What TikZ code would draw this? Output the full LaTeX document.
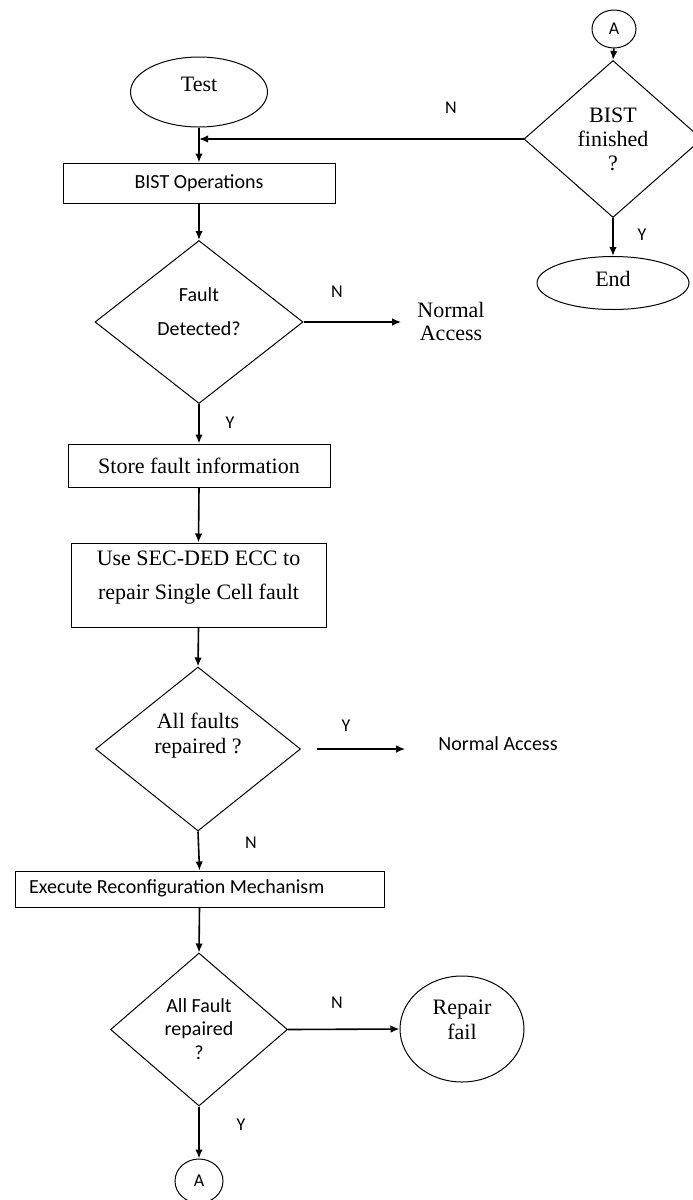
\documentclass[tikz,border=0pt]{standalone}
\usepackage{fontspec}
\setmainfont{Liberation Serif}
\newfontfamily\calibri{Carlito}
\usetikzlibrary{shapes.geometric,arrows.meta}
\tikzset{
  shp/.style={draw, line width=1pt, inner sep=0pt},
  boxs/.style={shp, rectangle},
  dia/.style={shp, diamond},
  ell/.style={shp, ellipse},
  arr/.style={-{Latex[length=9pt,width=7.5pt]}, line width=1.6pt},
  lab/.style={inner sep=0pt, font=\calibri\fontsize{18}{20}\selectfont},
  ser/.style={inner sep=0pt, align=center, font=\fontsize{22}{24}\selectfont},
  san/.style={inner sep=0pt, align=center, font=\calibri\fontsize{20}{22}\selectfont},
}
\begin{document}
\begin{tikzpicture}[x=1pt,y=-1pt]
\useasboundingbox (0,0) rectangle (693,1200);
% left column
\node[ell, minimum width=137, minimum height=70] (test) at (199,92) {};
\node[ser] (testtxt) at (199,84) {Test};
\node[boxs, minimum width=272, minimum height=40, san] (bistop) at (199,183) {BIST Operations};
\node[dia, minimum width=208, minimum height=163] (fault) at (199,322) {};
\node[san, font=\calibri\fontsize{20}{34}\selectfont] (faulttxt) at (199,312) {Fault\\Detected?};
\node[ser, font=\fontsize{22}{23}\selectfont] (na1) at (451,321) {Normal\\Access};
\node[boxs, minimum width=262, minimum height=43, ser] (store) at (199,465.5) {Store fault information};
\node[boxs, minimum width=255, minimum height=84] (ecc) at (198.5,585) {};
\node[ser, font=\fontsize{22}{34}\selectfont] (ecctxt) at (198.5,578) {Use SEC-DED ECC to\\repair Single Cell fault};
\node[dia, minimum width=205, minimum height=164] (allf) at (198,749) {};
\node[ser, font=\fontsize{22}{25}\selectfont] (allftxt) at (198,736) {All faults\\repaired ?};
\node[san] (na2) at (498,744) {Normal Access};
\node[boxs, minimum width=369, minimum height=36] (exec) at (199.5,889) {};
\node[san, anchor=west] (exectxt) at (29,888) {Execute Reconfiguration Mechanism};
\node[dia, minimum width=177, minimum height=153] (allF) at (199,1029.5) {};
\node[san, font=\calibri\fontsize{20}{23.5}\selectfont] (allFtxt) at (199,1029) {All Fault\\repaired\\?};
\node[ell, minimum width=124, minimum height=106] (repair) at (462,1029) {};
\node[ser, font=\fontsize{22}{25}\selectfont] (repairtxt) at (462,1020) {Repair\\fail};
\node[ell, minimum width=48, minimum height=44, lab] (a2) at (199,1181) {A};
% right column
\node[ell, minimum width=44, minimum height=38, lab] (a1) at (614,29) {A};
\node[dia, minimum width=178, minimum height=157] (bistfin) at (613,139) {};
\node[ser] (bistfintxt) at (613,139) {BIST\\finished\\?};
\node[ell, minimum width=152, minimum height=53] (end) at (613,283) {};
\node[ser] (endtxt) at (613,279) {End};
% labels
\node[lab] (lN1) at (451,108) {N};
\node[lab] (lY1) at (642,235) {Y};
\node[lab] (lN2) at (337,292) {N};
\node[lab] (lY2) at (230,423) {Y};
\node[lab] (lY3) at (346,726) {Y};
\node[lab] (lN3) at (251,843) {N};
\node[lab] (lN4) at (337,1003) {N};
\node[lab] (lY4) at (241,1125) {Y};
% connectors
\draw[arr] (test.south) -- (bistop.north);
\draw[arr] (bistfin.west) -- (bistfin.west -| bistop.north);
\draw[arr] (a1.south) -- (bistfin.north);
\draw[arr] (bistfin.south) -- (end.north);
\draw[arr] (bistop.south) -- (fault.north);
\draw[arr] (fault.east) -- ([xshift=-16pt]fault.east -| na1.west);
\draw[arr] (fault.south) -- (store.north);
\draw[arr] (store.south) -- (ecc.north);
\draw[arr] (ecc.south) -- (allf.north);
\draw[arr] ([xshift=16pt]allf.east) -- ([xshift=-33pt]allf.east -| na2.west);
\draw[arr] (allf.south) -- (exec.north);
\draw[arr] (exec.south) -- (allF.north);
\draw[arr] (allF.east) -- (repair.west);
\draw[arr] (allF.south) -- (a2.north);
\end{tikzpicture}
\end{document}
